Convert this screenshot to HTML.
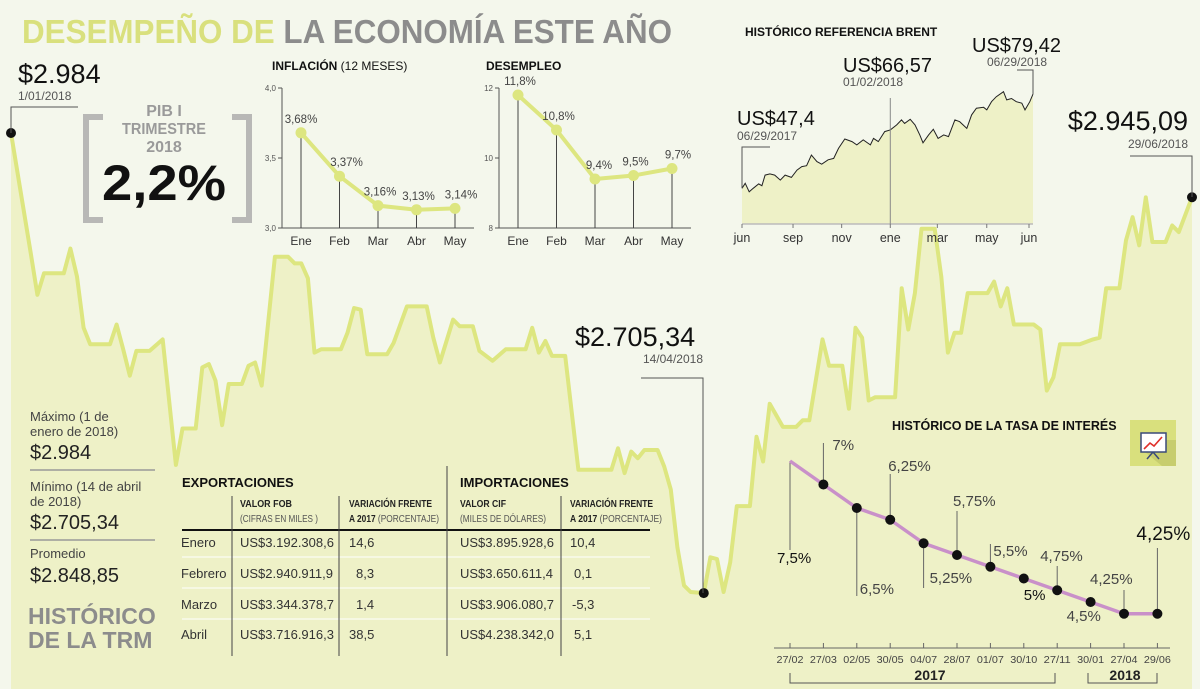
<!DOCTYPE html>
<html><head><meta charset="utf-8">
<style>
html,body{margin:0;padding:0;background:#f4f7ec;}
svg{display:block;font-family:"Liberation Sans",sans-serif;}
</style></head>
<body>
<svg id="svg" width="1200" height="689" viewBox="0 0 1200 689" xmlns="http://www.w3.org/2000/svg">
<rect x="0" y="0" width="1200" height="689" fill="#f4f7ec"/>
<g id="trm"></g>
<g id="title">
<text x="22" y="43" font-size="33" font-weight="bold" textLength="650" lengthAdjust="spacingAndGlyphs"><tspan fill="#d9e07d">DESEMPEÑO DE </tspan><tspan fill="#8c8c8c">LA ECONOMÍA ESTE AÑO</tspan></text>
</g>
<g>
<text x="18" y="83" font-size="27" fill="#111">$2.984</text>
<text x="18" y="100" font-size="12" fill="#555">1/01/2018</text>
<polyline points="11,133 11,107 78,107" fill="none" stroke="#555" stroke-width="1"/>
</g>
<g>
<polyline points="103,117 86,117 86,220 103,220" fill="none" stroke="#b8b8b6" stroke-width="6"/>
<polyline points="232,117 249,117 249,220 232,220" fill="none" stroke="#b8b8b6" stroke-width="6"/>
<text x="164" y="116" font-size="16" font-weight="bold" fill="#9a9a9a" text-anchor="middle">PIB I</text>
<text x="164" y="134" font-size="16" font-weight="bold" fill="#9a9a9a" text-anchor="middle" textLength="84" lengthAdjust="spacingAndGlyphs">TRIMESTRE</text>
<text x="164" y="152" font-size="16" font-weight="bold" fill="#9a9a9a" text-anchor="middle">2018</text>
<text x="164" y="200" font-size="50" font-weight="bold" fill="#111" text-anchor="middle" textLength="124" lengthAdjust="spacingAndGlyphs">2,2%</text>
</g>
<g id="infl">
<text x="272" y="70" font-size="12" fill="#111"><tspan font-weight="bold">INFLACIÓN</tspan> (12 MESES)</text>
</g>
<g id="desem">
<text x="486" y="70" font-size="12" fill="#111" font-weight="bold">DESEMPLEO</text>
</g>
<g id="brent">
<text x="745" y="36" font-size="12" fill="#111" font-weight="bold">HISTÓRICO REFERENCIA BRENT</text>
</g>
<g>
<text x="575" y="346" font-size="27" fill="#111">$2.705,34</text>
<text x="703" y="363" font-size="12" fill="#555" text-anchor="end">14/04/2018</text>
<polyline points="641,378 703,378 703,593" fill="none" stroke="#555" stroke-width="1"/>
</g>
<g>
<text x="1188" y="130" font-size="27" fill="#111" text-anchor="end">$2.945,09</text>
<text x="1188" y="148" font-size="12" fill="#555" text-anchor="end">29/06/2018</text>
<polyline points="1130,156 1192,156 1192,197" fill="none" stroke="#555" stroke-width="1"/>
</g>
<g fill="#222">
<text x="30" y="421" font-size="13" fill="#444">Máximo (1 de</text>
<text x="30" y="436" font-size="13" fill="#444">enero de 2018)</text>
<text x="30" y="459" font-size="20">$2.984</text>
<line x1="30" y1="470" x2="155" y2="470" stroke="#999" stroke-width="1.5"/>
<text x="30" y="491" font-size="13" fill="#444">Mínimo (14 de abril</text>
<text x="30" y="506" font-size="13" fill="#444">de 2018)</text>
<text x="30" y="529" font-size="20">$2.705,34</text>
<line x1="30" y1="540" x2="155" y2="540" stroke="#999" stroke-width="1.5"/>
<text x="30" y="558" font-size="13" fill="#444">Promedio</text>
<text x="30" y="582" font-size="20">$2.848,85</text>
<text x="28" y="624" font-size="23" font-weight="bold" fill="#8c8c8c">HISTÓRICO</text>
<text x="28" y="648" font-size="23" font-weight="bold" fill="#8c8c8c">DE LA TRM</text>
</g>
<g id="table" font-size="13" fill="#333">
<text x="182" y="487" font-size="13" font-weight="bold" fill="#111">EXPORTACIONES</text>
<text x="460" y="487" font-size="13" font-weight="bold" fill="#111">IMPORTACIONES</text>
<g font-size="10.5" fill="#222">
<text x="240" y="507" font-weight="bold" textLength="52" lengthAdjust="spacingAndGlyphs">VALOR FOB</text>
<text x="240" y="522" fill="#555" textLength="78" lengthAdjust="spacingAndGlyphs">(CIFRAS EN MILES )</text>
<text x="349" y="507" font-weight="bold" textLength="83" lengthAdjust="spacingAndGlyphs">VARIACIÓN FRENTE</text>
<text x="349" y="522" textLength="90" lengthAdjust="spacingAndGlyphs"><tspan font-weight="bold">A 2017</tspan> <tspan fill="#555">(PORCENTAJE)</tspan></text>
<text x="460" y="507" font-weight="bold" textLength="46" lengthAdjust="spacingAndGlyphs">VALOR CIF</text>
<text x="460" y="522" fill="#555" textLength="86" lengthAdjust="spacingAndGlyphs">(MILES DE DÓLARES)</text>
<text x="570" y="507" font-weight="bold" textLength="83" lengthAdjust="spacingAndGlyphs">VARIACIÓN FRENTE</text>
<text x="570" y="522" textLength="92" lengthAdjust="spacingAndGlyphs"><tspan font-weight="bold">A 2017</tspan> <tspan fill="#555">(PORCENTAJE)</tspan></text>
</g>
<line x1="182" y1="530" x2="650" y2="530" stroke="#111" stroke-width="2"/>
<line x1="182" y1="557" x2="650" y2="557" stroke="#fff" stroke-width="1"/>
<line x1="182" y1="588" x2="650" y2="588" stroke="#fff" stroke-width="1"/>
<line x1="182" y1="619" x2="650" y2="619" stroke="#fff" stroke-width="1"/>
<line x1="232" y1="496" x2="232" y2="656" stroke="#444"/>
<line x1="339" y1="496" x2="339" y2="656" stroke="#444"/>
<line x1="447" y1="466" x2="447" y2="656" stroke="#444"/>
<line x1="561" y1="496" x2="561" y2="656" stroke="#444"/>
<text x="181" y="547">Enero</text><text x="240" y="547">US$3.192.308,6</text><text x="349" y="547">14,6</text><text x="460" y="547">US$3.895.928,6</text><text x="570" y="547">10,4</text>
<text x="181" y="578">Febrero</text><text x="240" y="578">US$2.940.911,9</text><text x="356" y="578">8,3</text><text x="460" y="578">US$3.650.611,4</text><text x="574" y="578">0,1</text>
<text x="181" y="609">Marzo</text><text x="240" y="609">US$3.344.378,7</text><text x="356" y="609">1,4</text><text x="460" y="609">US$3.906.080,7</text><text x="572" y="609">-5,3</text>
<text x="181" y="639">Abril</text><text x="240" y="639">US$3.716.916,3</text><text x="349" y="639">38,5</text><text x="460" y="639">US$4.238.342,0</text><text x="574" y="639">5,1</text>
</g>
<g id="rate">
<text x="892" y="430" font-size="12.5" font-weight="bold" fill="#111">HISTÓRICO DE LA TASA DE INTERÉS</text>
<g>
<rect x="1130" y="420" width="46" height="46" fill="#d9e07d"/>
<polygon points="1145,440 1176,440 1176,466 1162,466 1145,452" fill="#c7cd6e"/>
<rect x="1141" y="433" width="25" height="19" fill="#fff" stroke="#3a4a7a" stroke-width="1.5"/>
<polyline points="1144,449 1150,443 1154,446 1162,437" fill="none" stroke="#e0302a" stroke-width="1.6"/>
<line x1="1153" y1="452" x2="1147" y2="459" stroke="#3a4a7a" stroke-width="1.5"/>
<line x1="1153" y1="452" x2="1159" y2="459" stroke="#3a4a7a" stroke-width="1.5"/>
</g>
</g>
</svg>
<script>
// ===== TRM data =====
const trmDays = [0,3,4,5,8,9,10,11,12,15,16,17,18,19,21,23,25,26,28,29,30,31,32,33,35,36,37,38,40,42,43,44,45,46,47,50,51,52,53,54,57,58,60,63,64,65,67,68,70,71,73,75,78,79,80,81,82,84,86,89,91,92,93,94,95,96,98,99,100,101,102,103,105,106,107,108,109,110,112,113,114,115,117,119,120,121,123,124,126,127,128,129,130,131,134,135,136,137,138,140,141,142,143,144,145,148,149,150,151,152,155,156,157,158,159,162,164,165,166,168,169,170,171,172,173,175,176,177,179];
const trmValues = [2984,2911,2886,2899,2899,2914,2897,2866,2856,2856,2868,2853,2837,2852,2852,2859,2783,2805,2805,2842,2844,2834,2807,2832,2832,2843,2845,2831,2909,2909,2905,2905,2896,2851,2853,2853,2863,2878,2877,2850,2850,2857,2879,2879,2860,2845,2871,2867,2867,2852,2846,2853,2853,2866,2851,2858,2849,2849,2780,2780,2780,2793,2778,2791,2787,2792,2792,2782,2768,2733,2710,2706,2705.34,2727,2726,2706,2724,2758,2758,2800,2785,2820,2806,2806,2810,2810,2859,2843,2843,2817,2866,2860,2822,2824,2824,2890,2865,2887,2926,2926,2897,2851,2863,2863,2887,2887,2894,2879,2890,2868,2868,2865,2828,2836,2856,2856,2859,2860,2890,2890,2919,2933,2916,2945,2918,2918,2928,2924,2945.09];
// ===== Inflation =====
const months = ["Ene","Feb","Mar","Abr","May"];
const inflValues = [3.68,3.37,3.16,3.13,3.14];
const inflLabels = ["3,68%","3,37%","3,16%","3,13%","3,14%"];
const inflTicks = [3.0,3.5,4.0];
const inflTickLabels = ["3,0","3,5","4,0"];
// ===== Unemployment =====
const desemValues = [11.8,10.8,9.4,9.5,9.7];
const desemLabels = ["11,8%","10,8%","9,4%","9,5%","9,7%"];
const desemTicks = [8,10,12];
const desemTickLabels = ["8","10","12"];
// ===== Brent =====
const brentDays = [0,4,9,14,21,25,29,35,41,48,54,62,69,75,81,87,94,100,108,115,121,129,138,144,152,161,165,171,179,186,194,200,204,211,217,223,227,234,240,246,253,259,267,273,282,288,294,303,307,313,319,328,332,338,344,351,355,361,365];
const brentValues = [47.3,49.0,46.1,47.3,48.8,48.2,51.8,52.2,51.8,50.1,51.8,51.0,53.5,54.7,55.0,58.6,56.4,55.5,57.0,57.5,60.9,64.1,63.2,62.1,63.8,62.1,64.3,63.2,66.6,67.2,68.9,70.6,69.4,70.8,68.9,65.5,62.8,65.5,67.4,64.3,65.5,64.9,70.6,70.0,67.7,72.3,74.6,74.9,74.0,76.8,78.5,80.2,77.4,77.9,76.8,76.3,74.0,76.8,79.4];
const brentTickDays = [0,64,125,186,245,307,360];
const brentTickLabels = ["jun","sep","nov","ene","mar","may","jun"];
// ===== Interest rate =====
const rateDates = ["27/02","27/03","02/05","30/05","04/07","28/07","01/07","30/10","27/11","30/01","27/04","29/06"];
const rateValues = [7.5,7,6.5,6.25,5.75,5.5,5.25,5,4.75,4.5,4.25,4.25];
const rateLabels = ["7,5%","7%","6,5%","6,25%","5,25%","5,75%","5,5%","5%","4,75%","4,5%","4,25%","4,25%"];

const NS="http://www.w3.org/2000/svg";
function mk(parent,tag,attrs,text){const e=document.createElementNS(NS,tag);for(const k in attrs)e.setAttribute(k,attrs[k]);if(text!==undefined)e.textContent=text;parent.appendChild(e);return e;}

// TRM
(function(){
  const g=document.getElementById('trm');
  const x=d=>11+d*1181/179, y=v=>133+(2984-v)*1.651;
  let pts=trmDays.map((d,i)=>x(d).toFixed(1)+','+y(trmValues[i]).toFixed(1));
  const area=mk(g,'polygon',{points:x(0)+',689 '+pts.join(' ')+' '+x(179)+',689',fill:'#eef1c7'});
  
  
  const line=mk(g,'polyline',{points:pts.join(' '),fill:'none',stroke:'#dde680','stroke-width':4,'stroke-linejoin':'round'});
  
  
  const mi=trmValues.indexOf(Math.min(...trmValues));
  [0,mi,trmValues.length-1].forEach(i=>{
    const c=mk(g,'circle',{cx:x(trmDays[i]),cy:y(trmValues[i]),r:5,fill:'#111'});
    
    
  });
})();

function mini(gid,vals,labels,ticks,tickLabels,ax,xs,top,bot,vmin,vmax,lblDx){
  const g=document.getElementById(gid);
  const y=v=>bot-(v-vmin)/(vmax-vmin)*(bot-top);
  mk(g,'line',{x1:ax,y1:top,x2:ax,y2:bot,stroke:'#555'});
  mk(g,'line',{x1:ax,y1:bot,x2:ax+192,y2:bot,stroke:'#555'});
  ticks.forEach((t,i)=>{mk(g,'line',{x1:ax-4,y1:y(t),x2:ax,y2:y(t),stroke:'#555'});
    const tl=mk(g,'text',{x:ax-6,y:y(t)+3,'font-size':8,fill:'#555','text-anchor':'end'},tickLabels[i]);
    
    });
  const pts=vals.map((v,i)=>[ax+19+i*38.5,y(v)]);
  pts.forEach(p=>mk(g,'line',{x1:p[0],y1:p[1],x2:p[0],y2:bot,stroke:'#444'}));
  const pl=mk(g,'polyline',{points:pts.map(p=>p.join(',')).join(' '),fill:'none',stroke:'#dde680','stroke-width':4,'stroke-linejoin':'round'});
  
  
  pts.forEach((p,i)=>{
    const c=mk(g,'circle',{cx:p[0],cy:p[1],r:5.5,fill:'#dde680'});
    
    
    const t=mk(g,'text',{x:p[0]+(lblDx[i]||0),y:p[1]-10,'font-size':11.5,fill:'#444','text-anchor':'middle'},labels[i]);
    
    
    const m=mk(g,'text',{x:p[0],y:bot+17,'font-size':12,fill:'#333','text-anchor':'middle'},months[i]);
    
    
  });
}
mini('infl',inflValues,inflLabels,inflTicks,inflTickLabels,282,null,88,228,3,4,[0,7,2,2,6]);
mini('desem',desemValues,desemLabels,desemTicks,desemTickLabels,499,null,88,228,8,12,[2,2,4,2,6]);

// Brent
(function(){
  const g=document.getElementById('brent');
  const x=d=>742+d*291/365, y=v=>188-(v-47.4)*2.935, base=224;
  const pts=brentDays.map((d,i)=>x(d).toFixed(1)+','+y(brentValues[i]).toFixed(1));
  const a=mk(g,'polygon',{points:x(0)+','+base+' '+pts.join(' ')+' '+x(365)+','+base,fill:'#eef1c7'});
  
  
  const l=mk(g,'polyline',{points:pts.join(' '),fill:'none',stroke:'#222','stroke-width':1});
  
  
  mk(g,'line',{x1:742,y1:base,x2:1033,y2:base,stroke:'#bbb','stroke-width':1.5});
  mk(g,'line',{x1:x(186),y1:98,x2:x(186),y2:base,stroke:'#888'});
  brentTickDays.forEach((d,i)=>{
    mk(g,'line',{x1:x(d),y1:base,x2:x(d),y2:base+4,stroke:'#777'});
    const t=mk(g,'text',{x:x(d),y:base+18,'font-size':12.5,fill:'#333','text-anchor':'middle'},brentTickLabels[i]);
    
    
  });
  mk(g,'text',{x:737,y:125,'font-size':20,fill:'#111'},'US$47,4');
  mk(g,'text',{x:737,y:140,'font-size':12,fill:'#555'},'06/29/2017');
  mk(g,'polyline',{points:'742,'+y(brentValues[0])+' 742,147 770,147',fill:'none',stroke:'#555'});
  mk(g,'text',{x:843,y:72,'font-size':20,fill:'#111'},'US$66,57');
  mk(g,'text',{x:843,y:86,'font-size':12,fill:'#555'},'01/02/2018');
  mk(g,'text',{x:972,y:52,'font-size':20,fill:'#111'},'US$79,42');
  mk(g,'text',{x:987,y:66,'font-size':12,fill:'#555'},'06/29/2018');
  mk(g,'polyline',{points:'1017,70 1033,70 1033,'+y(brentValues[brentValues.length-1]),fill:'none',stroke:'#555'});
})();

// Interest rate
(function(){
  const g=document.getElementById('rate');
  const x=i=>790+i*33.4, y=v=>461+(7.5-v)*47;
  const place=[[-13,563,550,1],[9,450,443,0],[3,594,596,0],[-2,471,474,0],[6,583,588,0],[-4,506,511,0],[3,556,544,0],[0,600,null,1],[-17,561,566,0],[-24,621,null,0],[-34,584,590,0],[-21,540,548,2]];
  mk(g,'line',{x1:774,y1:648,x2:1170,y2:648,stroke:'#666'});
  rateDates.forEach((d,i)=>{
    mk(g,'line',{x1:x(i),y1:643,x2:x(i),y2:648,stroke:'#666'});
    const t=mk(g,'text',{x:x(i),y:663,'font-size':10.5,fill:'#444','text-anchor':'middle',textLength:27,lengthAdjust:'spacingAndGlyphs'},d);
    
    
  });
  rateValues.forEach((v,i)=>{
    const p=place[i];
    if(p[2]!==null) mk(g,'line',{x1:x(i),y1:y(v),x2:x(i),y2:p[2],stroke:'#666'});
  });
  const pl=mk(g,'polyline',{points:rateValues.map((v,i)=>x(i)+','+y(v)).join(' '),fill:'none',stroke:'#c990c9','stroke-width':3.5,'stroke-linejoin':'round'});
  
  
  rateValues.forEach((v,i)=>{
    if(i>0){const c=mk(g,'circle',{cx:x(i),cy:y(v),r:5,fill:'#111'});
    
    }
    const p=place[i];
    const t=mk(g,'text',{x:x(i)+p[0],y:p[1],'font-size':p[3]==2?19:15,fill:p[3]?'#111':'#444'},rateLabels[i]);
    
    
  });
  mk(g,'text',{x:930,y:680,'font-size':14,'font-weight':'bold',fill:'#222','text-anchor':'middle'},'2017');
  mk(g,'polyline',{points:'790,673 790,683 1055,683 1055,673',fill:'none',stroke:'#555'});
  mk(g,'text',{x:1125,y:680,'font-size':14,'font-weight':'bold',fill:'#222','text-anchor':'middle'},'2018');
  mk(g,'polyline',{points:'1088,673 1088,683 1157,683 1157,673',fill:'none',stroke:'#555'});
})();
</script>
</body></html>
